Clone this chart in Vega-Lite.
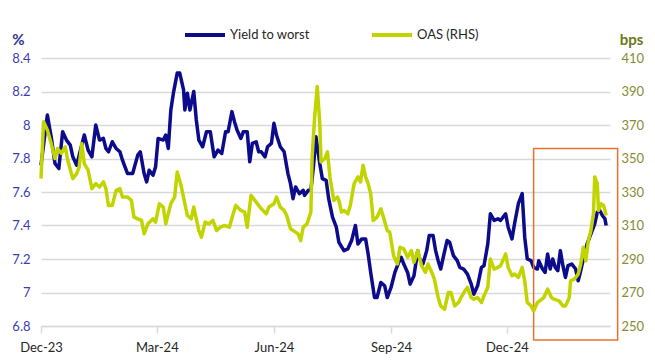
{
  "$schema": "https://vega.github.io/schema/vega-lite/v6.json",
  "width": 569,
  "height": 268,
  "autosize": "none",
  "padding": {"left": 41, "top": 58, "right": 45, "bottom": 36},
  "background": "white",
  "config": {
    "view": {"stroke": null},
    "font": "Lato",
    "axis": {"labelFont": "Lato", "titleFont": "Lato", "labelFontSize": 13}
  },
  "datasets": {
    "ytw": [
      {"date": "2023-12-01", "v": 7.76},
      {"date": "2023-12-06", "v": 8.06},
      {"date": "2023-12-09", "v": 7.93},
      {"date": "2023-12-12", "v": 7.77},
      {"date": "2023-12-15", "v": 7.74},
      {"date": "2023-12-18", "v": 7.96},
      {"date": "2023-12-21", "v": 7.91},
      {"date": "2023-12-24", "v": 7.88},
      {"date": "2023-12-26", "v": 7.81},
      {"date": "2023-12-29", "v": 7.76},
      {"date": "2023-12-31", "v": 7.82},
      {"date": "2024-01-04", "v": 7.94},
      {"date": "2024-01-07", "v": 7.85},
      {"date": "2024-01-10", "v": 7.81},
      {"date": "2024-01-13", "v": 8.0},
      {"date": "2024-01-16", "v": 7.91},
      {"date": "2024-01-19", "v": 7.92},
      {"date": "2024-01-21", "v": 7.86},
      {"date": "2024-01-23", "v": 7.84},
      {"date": "2024-01-26", "v": 7.9},
      {"date": "2024-01-29", "v": 7.86},
      {"date": "2024-02-01", "v": 7.84},
      {"date": "2024-02-03", "v": 7.79},
      {"date": "2024-02-07", "v": 7.71},
      {"date": "2024-02-11", "v": 7.71},
      {"date": "2024-02-15", "v": 7.82},
      {"date": "2024-02-17", "v": 7.84},
      {"date": "2024-02-20", "v": 7.71},
      {"date": "2024-02-22", "v": 7.66},
      {"date": "2024-02-24", "v": 7.73},
      {"date": "2024-02-27", "v": 7.7},
      {"date": "2024-02-29", "v": 7.75},
      {"date": "2024-03-02", "v": 7.92},
      {"date": "2024-03-06", "v": 7.91},
      {"date": "2024-03-08", "v": 7.94},
      {"date": "2024-03-10", "v": 7.86},
      {"date": "2024-03-12", "v": 8.09},
      {"date": "2024-03-14", "v": 8.19},
      {"date": "2024-03-17", "v": 8.31},
      {"date": "2024-03-19", "v": 8.31},
      {"date": "2024-03-22", "v": 8.21},
      {"date": "2024-03-23", "v": 8.09},
      {"date": "2024-03-25", "v": 8.19},
      {"date": "2024-03-27", "v": 8.09},
      {"date": "2024-03-30", "v": 8.2},
      {"date": "2024-04-01", "v": 8.03},
      {"date": "2024-04-03", "v": 7.91},
      {"date": "2024-04-06", "v": 7.87},
      {"date": "2024-04-09", "v": 7.96},
      {"date": "2024-04-12", "v": 7.96},
      {"date": "2024-04-15", "v": 7.81},
      {"date": "2024-04-18", "v": 7.85},
      {"date": "2024-04-21", "v": 7.83},
      {"date": "2024-04-24", "v": 7.96},
      {"date": "2024-04-26", "v": 7.96},
      {"date": "2024-04-29", "v": 8.08},
      {"date": "2024-05-01", "v": 8.02},
      {"date": "2024-05-03", "v": 7.97},
      {"date": "2024-05-06", "v": 7.92},
      {"date": "2024-05-08", "v": 7.96},
      {"date": "2024-05-11", "v": 7.96},
      {"date": "2024-05-13", "v": 7.78},
      {"date": "2024-05-15", "v": 7.89},
      {"date": "2024-05-18", "v": 7.9},
      {"date": "2024-05-20", "v": 7.84},
      {"date": "2024-05-22", "v": 7.84},
      {"date": "2024-05-25", "v": 7.81},
      {"date": "2024-05-27", "v": 7.87},
      {"date": "2024-05-30", "v": 7.89},
      {"date": "2024-06-01", "v": 8.01},
      {"date": "2024-06-03", "v": 7.94},
      {"date": "2024-06-06", "v": 7.87},
      {"date": "2024-06-09", "v": 7.84},
      {"date": "2024-06-12", "v": 7.71},
      {"date": "2024-06-14", "v": 7.65},
      {"date": "2024-06-16", "v": 7.56},
      {"date": "2024-06-18", "v": 7.63},
      {"date": "2024-06-21", "v": 7.59},
      {"date": "2024-06-24", "v": 7.61},
      {"date": "2024-06-25", "v": 7.58},
      {"date": "2024-06-28", "v": 7.61},
      {"date": "2024-06-30", "v": 7.61},
      {"date": "2024-07-02", "v": 7.75},
      {"date": "2024-07-04", "v": 7.93},
      {"date": "2024-07-07", "v": 7.77},
      {"date": "2024-07-09", "v": 7.68},
      {"date": "2024-07-12", "v": 7.67},
      {"date": "2024-07-14", "v": 7.56},
      {"date": "2024-07-17", "v": 7.45},
      {"date": "2024-07-20", "v": 7.39},
      {"date": "2024-07-22", "v": 7.3},
      {"date": "2024-07-26", "v": 7.25},
      {"date": "2024-07-29", "v": 7.26},
      {"date": "2024-08-01", "v": 7.31},
      {"date": "2024-08-04", "v": 7.4},
      {"date": "2024-08-06", "v": 7.29},
      {"date": "2024-08-09", "v": 7.32},
      {"date": "2024-08-12", "v": 7.32},
      {"date": "2024-08-14", "v": 7.23},
      {"date": "2024-08-16", "v": 7.12},
      {"date": "2024-08-19", "v": 6.97},
      {"date": "2024-08-21", "v": 6.97},
      {"date": "2024-08-24", "v": 7.06},
      {"date": "2024-08-27", "v": 7.04},
      {"date": "2024-08-29", "v": 6.97},
      {"date": "2024-09-01", "v": 7.03},
      {"date": "2024-09-04", "v": 7.12},
      {"date": "2024-09-07", "v": 7.18},
      {"date": "2024-09-09", "v": 7.21},
      {"date": "2024-09-11", "v": 7.17},
      {"date": "2024-09-14", "v": 7.12},
      {"date": "2024-09-16", "v": 7.05},
      {"date": "2024-09-19", "v": 7.1},
      {"date": "2024-09-22", "v": 7.25},
      {"date": "2024-09-23", "v": 7.21},
      {"date": "2024-09-26", "v": 7.17},
      {"date": "2024-09-29", "v": 7.25},
      {"date": "2024-10-01", "v": 7.34},
      {"date": "2024-10-04", "v": 7.34},
      {"date": "2024-10-06", "v": 7.25},
      {"date": "2024-10-08", "v": 7.19},
      {"date": "2024-10-10", "v": 7.14},
      {"date": "2024-10-12", "v": 7.21},
      {"date": "2024-10-15", "v": 7.31},
      {"date": "2024-10-17", "v": 7.3},
      {"date": "2024-10-20", "v": 7.22},
      {"date": "2024-10-23", "v": 7.19},
      {"date": "2024-10-25", "v": 7.15},
      {"date": "2024-10-28", "v": 7.14},
      {"date": "2024-10-31", "v": 7.11},
      {"date": "2024-11-03", "v": 7.05},
      {"date": "2024-11-05", "v": 6.99},
      {"date": "2024-11-08", "v": 7.04},
      {"date": "2024-11-11", "v": 7.15},
      {"date": "2024-11-13", "v": 7.16},
      {"date": "2024-11-16", "v": 7.29},
      {"date": "2024-11-18", "v": 7.47},
      {"date": "2024-11-21", "v": 7.43},
      {"date": "2024-11-24", "v": 7.44},
      {"date": "2024-11-26", "v": 7.43},
      {"date": "2024-11-30", "v": 7.47},
      {"date": "2024-12-02", "v": 7.39},
      {"date": "2024-12-05", "v": 7.32},
      {"date": "2024-12-07", "v": 7.41},
      {"date": "2024-12-10", "v": 7.53},
      {"date": "2024-12-13", "v": 7.59},
      {"date": "2024-12-15", "v": 7.33},
      {"date": "2024-12-17", "v": 7.2},
      {"date": "2024-12-20", "v": 7.19},
      {"date": "2024-12-22", "v": 7.15},
      {"date": "2024-12-25", "v": 7.14},
      {"date": "2024-12-26", "v": 7.19},
      {"date": "2024-12-29", "v": 7.14},
      {"date": "2024-12-31", "v": 7.12},
      {"date": "2025-01-02", "v": 7.23},
      {"date": "2025-01-04", "v": 7.14},
      {"date": "2025-01-06", "v": 7.2},
      {"date": "2025-01-08", "v": 7.15},
      {"date": "2025-01-10", "v": 7.13},
      {"date": "2025-01-12", "v": 7.25},
      {"date": "2025-01-14", "v": 7.16},
      {"date": "2025-01-16", "v": 7.09},
      {"date": "2025-01-18", "v": 7.16},
      {"date": "2025-01-21", "v": 7.17},
      {"date": "2025-01-24", "v": 7.14},
      {"date": "2025-01-26", "v": 7.07},
      {"date": "2025-01-28", "v": 7.13},
      {"date": "2025-01-31", "v": 7.23},
      {"date": "2025-02-02", "v": 7.29},
      {"date": "2025-02-05", "v": 7.35},
      {"date": "2025-02-08", "v": 7.41},
      {"date": "2025-02-10", "v": 7.48},
      {"date": "2025-02-12", "v": 7.49},
      {"date": "2025-02-14", "v": 7.46},
      {"date": "2025-02-16", "v": 7.44},
      {"date": "2025-02-17", "v": 7.4}
    ],
    "oas": [
      {"date": "2023-12-01", "v": 338},
      {"date": "2023-12-03", "v": 372},
      {"date": "2023-12-06", "v": 367},
      {"date": "2023-12-09", "v": 359},
      {"date": "2023-12-12", "v": 350},
      {"date": "2023-12-14", "v": 356},
      {"date": "2023-12-17", "v": 353},
      {"date": "2023-12-20", "v": 357},
      {"date": "2023-12-22", "v": 349},
      {"date": "2023-12-26", "v": 338},
      {"date": "2023-12-29", "v": 341},
      {"date": "2023-12-31", "v": 345},
      {"date": "2024-01-02", "v": 359},
      {"date": "2024-01-04", "v": 347},
      {"date": "2024-01-07", "v": 343},
      {"date": "2024-01-10", "v": 332},
      {"date": "2024-01-13", "v": 335},
      {"date": "2024-01-16", "v": 333},
      {"date": "2024-01-19", "v": 336},
      {"date": "2024-01-21", "v": 332},
      {"date": "2024-01-23", "v": 322},
      {"date": "2024-01-26", "v": 322},
      {"date": "2024-01-29", "v": 331},
      {"date": "2024-02-01", "v": 332},
      {"date": "2024-02-03", "v": 327},
      {"date": "2024-02-07", "v": 327},
      {"date": "2024-02-10", "v": 325},
      {"date": "2024-02-12", "v": 315},
      {"date": "2024-02-15", "v": 314},
      {"date": "2024-02-18", "v": 313},
      {"date": "2024-02-20", "v": 305},
      {"date": "2024-02-23", "v": 311},
      {"date": "2024-02-27", "v": 314},
      {"date": "2024-02-29", "v": 312},
      {"date": "2024-03-03", "v": 323},
      {"date": "2024-03-06", "v": 321},
      {"date": "2024-03-08", "v": 311},
      {"date": "2024-03-12", "v": 323},
      {"date": "2024-03-15", "v": 327},
      {"date": "2024-03-17", "v": 342},
      {"date": "2024-03-20", "v": 334},
      {"date": "2024-03-23", "v": 323},
      {"date": "2024-03-25", "v": 316},
      {"date": "2024-03-28", "v": 314},
      {"date": "2024-03-30", "v": 321},
      {"date": "2024-04-03", "v": 307},
      {"date": "2024-04-05", "v": 303},
      {"date": "2024-04-08", "v": 312},
      {"date": "2024-04-11", "v": 311},
      {"date": "2024-04-14", "v": 313},
      {"date": "2024-04-17", "v": 307},
      {"date": "2024-04-20", "v": 309},
      {"date": "2024-04-23", "v": 310},
      {"date": "2024-04-27", "v": 309},
      {"date": "2024-04-30", "v": 317},
      {"date": "2024-05-02", "v": 322},
      {"date": "2024-05-06", "v": 319},
      {"date": "2024-05-09", "v": 318},
      {"date": "2024-05-11", "v": 309},
      {"date": "2024-05-14", "v": 328},
      {"date": "2024-05-17", "v": 325},
      {"date": "2024-05-20", "v": 322},
      {"date": "2024-05-22", "v": 320},
      {"date": "2024-05-26", "v": 317},
      {"date": "2024-05-28", "v": 321},
      {"date": "2024-06-01", "v": 323},
      {"date": "2024-06-03", "v": 327},
      {"date": "2024-06-06", "v": 321},
      {"date": "2024-06-09", "v": 319},
      {"date": "2024-06-11", "v": 316},
      {"date": "2024-06-14", "v": 308},
      {"date": "2024-06-16", "v": 307},
      {"date": "2024-06-20", "v": 305},
      {"date": "2024-06-22", "v": 301},
      {"date": "2024-06-24", "v": 309},
      {"date": "2024-06-27", "v": 311},
      {"date": "2024-06-30", "v": 318},
      {"date": "2024-07-01", "v": 351},
      {"date": "2024-07-03", "v": 375},
      {"date": "2024-07-05", "v": 393},
      {"date": "2024-07-07", "v": 371},
      {"date": "2024-07-08", "v": 348},
      {"date": "2024-07-11", "v": 350},
      {"date": "2024-07-13", "v": 354},
      {"date": "2024-07-15", "v": 339},
      {"date": "2024-07-18", "v": 325},
      {"date": "2024-07-21", "v": 327},
      {"date": "2024-07-22", "v": 325},
      {"date": "2024-07-24", "v": 318},
      {"date": "2024-07-26", "v": 319},
      {"date": "2024-07-29", "v": 317},
      {"date": "2024-07-31", "v": 322},
      {"date": "2024-08-03", "v": 335},
      {"date": "2024-08-06", "v": 339},
      {"date": "2024-08-08", "v": 336},
      {"date": "2024-08-10", "v": 346},
      {"date": "2024-08-12", "v": 339},
      {"date": "2024-08-14", "v": 335},
      {"date": "2024-08-16", "v": 329},
      {"date": "2024-08-18", "v": 313},
      {"date": "2024-08-21", "v": 315},
      {"date": "2024-08-24", "v": 320},
      {"date": "2024-08-26", "v": 315},
      {"date": "2024-08-29", "v": 307},
      {"date": "2024-08-31", "v": 306},
      {"date": "2024-09-03", "v": 292},
      {"date": "2024-09-06", "v": 287},
      {"date": "2024-09-08", "v": 297},
      {"date": "2024-09-11", "v": 296},
      {"date": "2024-09-14", "v": 291},
      {"date": "2024-09-17", "v": 295},
      {"date": "2024-09-19", "v": 288},
      {"date": "2024-09-22", "v": 295},
      {"date": "2024-09-25", "v": 286},
      {"date": "2024-09-28", "v": 282},
      {"date": "2024-09-30", "v": 287},
      {"date": "2024-10-03", "v": 282},
      {"date": "2024-10-05", "v": 278},
      {"date": "2024-10-08", "v": 267},
      {"date": "2024-10-10", "v": 262},
      {"date": "2024-10-13", "v": 260},
      {"date": "2024-10-16", "v": 270},
      {"date": "2024-10-18", "v": 270},
      {"date": "2024-10-21", "v": 262},
      {"date": "2024-10-24", "v": 264},
      {"date": "2024-10-26", "v": 267},
      {"date": "2024-10-29", "v": 271},
      {"date": "2024-10-31", "v": 273},
      {"date": "2024-11-03", "v": 267},
      {"date": "2024-11-05", "v": 266},
      {"date": "2024-11-08", "v": 267},
      {"date": "2024-11-11", "v": 264},
      {"date": "2024-11-13", "v": 268},
      {"date": "2024-11-16", "v": 273},
      {"date": "2024-11-18", "v": 290},
      {"date": "2024-11-21", "v": 284},
      {"date": "2024-11-24", "v": 285},
      {"date": "2024-11-26", "v": 286},
      {"date": "2024-11-30", "v": 293},
      {"date": "2024-12-02", "v": 285},
      {"date": "2024-12-05", "v": 280},
      {"date": "2024-12-07", "v": 281},
      {"date": "2024-12-10", "v": 279},
      {"date": "2024-12-13", "v": 285},
      {"date": "2024-12-15", "v": 277},
      {"date": "2024-12-17", "v": 264},
      {"date": "2024-12-20", "v": 262},
      {"date": "2024-12-22", "v": 259},
      {"date": "2024-12-25", "v": 264},
      {"date": "2024-12-30", "v": 267},
      {"date": "2025-01-02", "v": 272},
      {"date": "2025-01-05", "v": 267},
      {"date": "2025-01-07", "v": 266},
      {"date": "2025-01-11", "v": 265},
      {"date": "2025-01-14", "v": 262},
      {"date": "2025-01-16", "v": 262},
      {"date": "2025-01-19", "v": 267},
      {"date": "2025-01-20", "v": 277},
      {"date": "2025-01-23", "v": 278},
      {"date": "2025-01-26", "v": 281},
      {"date": "2025-01-28", "v": 287},
      {"date": "2025-01-30", "v": 297},
      {"date": "2025-02-01", "v": 289},
      {"date": "2025-02-03", "v": 301},
      {"date": "2025-02-05", "v": 307},
      {"date": "2025-02-07", "v": 317},
      {"date": "2025-02-08", "v": 339},
      {"date": "2025-02-10", "v": 335},
      {"date": "2025-02-11", "v": 319},
      {"date": "2025-02-13", "v": 323},
      {"date": "2025-02-15", "v": 322},
      {"date": "2025-02-17", "v": 316}
    ],
    "box": [
      {"date": "2024-12-22", "end": "2025-02-26", "v": 7.86, "v2": 6.716}
    ]
  },
  "encoding": {
    "x": {
      "field": "date",
      "type": "temporal",
      "scale": {"domain": ["2023-12-01", "2025-02-20"]},
      "axis": {
        "title": null,
        "values": ["2023-12-01", "2024-03-01", "2024-06-01", "2024-09-01", "2024-12-01"],
        "format": "%b-%y",
        "grid": false,
        "domainColor": "#D9D9D9",
        "domainWidth": 1.5,
        "tickColor": "#D9D9D9",
        "tickWidth": 1.5,
        "tickSize": 7,
        "labelPadding": 8,
        "labelColor": "#262626",
        "labelFontSize": 13,
        "labelFlush": false
      }
    }
  },
  "layer": [
    {
      "encoding": {
        "y": {
          "field": "v",
          "type": "quantitative",
          "scale": {"domain": [6.8, 8.4], "zero": false, "nice": false},
          "axis": {
            "title": "%",
            "titleAngle": 0,
            "titleX": -23,
            "titleY": -14,
            "titleAlign": "center",
            "titleBaseline": "alphabetic",
            "titleColor": "#2E3192",
            "titleFontSize": 15,
            "titleFontWeight": "bold",
            "values": [6.8, 7.0, 7.2, 7.4, 7.6, 7.8, 8.0, 8.2, 8.4],
            "labelExpr": "format(datum.value, '.1~f')",
            "labelOverlap": false,
            "labelColor": "#3B3BB3",
            "labelFontSize": 13,
            "labelPadding": 11,
            "domain": false,
            "ticks": false,
            "grid": true,
            "gridColor": "#D9D9D9",
            "gridWidth": 1.5
          }
        }
      },
      "layer": [
        {
          "data": {"name": "ytw"},
          "transform": [{"calculate": "'Yield to worst'", "as": "series"}],
          "mark": {"type": "line", "strokeWidth": 3.5, "strokeJoin": "round", "interpolate": "linear"},
          "encoding": {
            "color": {
              "field": "series",
              "type": "nominal",
              "scale": {"domain": ["Yield to worst", "OAS (RHS)"], "range": ["#0B0B8C", "#C2D400"]},
              "legend": {
                "title": null,
                "orient": "none",
                "legendX": 142,
                "legendY": -45,
                "direction": "horizontal",
                "symbolType": "stroke",
                "symbolStrokeWidth": 4,
                "symbolSize": 1600,
                "labelOffset": 3,
                "columnPadding": 54,
                "labelFontSize": 13,
                "labelColor": "#262626",
                "padding": 0
              }
            }
          }
        },
        {
          "data": {"name": "box"},
          "mark": {"type": "rect", "fill": null, "fillOpacity": 0, "stroke": "#E8722C", "strokeWidth": 1.5, "clip": false},
          "encoding": {
            "x2": {"field": "end"},
            "y2": {"field": "v2"}
          }
        }
      ]
    },
    {
      "data": {"name": "oas"},
      "transform": [{"calculate": "'OAS (RHS)'", "as": "series"}],
      "mark": {"type": "line", "strokeWidth": 3.5, "strokeJoin": "round"},
      "encoding": {
        "y": {
          "field": "v",
          "type": "quantitative",
          "scale": {"domain": [250, 410], "zero": false, "nice": false},
          "axis": {
            "orient": "right",
            "title": "bps",
            "titleAngle": 0,
            "titleX": 21,
            "titleY": -14,
            "titleAlign": "center",
            "titleBaseline": "alphabetic",
            "titleColor": "#6B7A1A",
            "titleFontSize": 15,
            "titleFontWeight": "bold",
            "values": [250, 270, 290, 310, 330, 350, 370, 390, 410],
            "labelOverlap": false,
            "labelColor": "#868C33",
            "labelFontSize": 13,
            "labelPadding": 11,
            "domain": false,
            "ticks": false,
            "grid": false
          }
        },
        "color": {"field": "series", "type": "nominal"}
      }
    }
  ],
  "resolve": {"scale": {"y": "independent"}}
}
